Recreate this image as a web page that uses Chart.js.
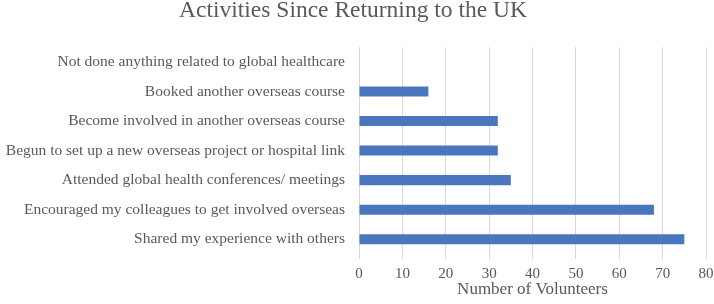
<!DOCTYPE html>
<html>
<head>
<meta charset="utf-8">
<script src="https://cdn.jsdelivr.net/npm/chart.js@4/dist/chart.umd.min.js"></script>
<style>
  html, body { margin: 0; padding: 0; background: #ffffff; }
  #wrap { width: 714px; height: 304px; }
</style>
</head>
<body>
<div id="wrap"><canvas id="c" width="714" height="304"></canvas></div>
<script>
const categories = [
  "Not done anything related to global healthcare",
  "Booked another overseas course",
  "Become involved in another overseas course",
  "Begun to set up a new overseas project or hospital link",
  "Attended global health conferences/ meetings",
  "Encouraged my colleagues to get involved overseas",
  "Shared my experience with others"
];
const volunteers = [0, 16, 32, 32, 35, 68, 75];
const chartTitle = "Activities Since Returning to the UK";
const xAxisTitle = "Number of Volunteers";

const FONT = "'Liberation Serif', serif";
const TEXT = "#595959";

new Chart(document.getElementById('c'), {
  type: 'bar',
  data: {
    labels: categories,
    datasets: [{
      data: volunteers,
      backgroundColor: '#4a76bd',
      borderWidth: 0,
      barPercentage: 0.34,
      categoryPercentage: 1.0
    }]
  },
  options: {
    indexAxis: 'y',
    responsive: false,
    animation: false,
    devicePixelRatio: 1,
    layout: { padding: { left: 0, right: 8, top: 0, bottom: 0 } },
    plugins: {
      legend: { display: false },
      tooltip: { enabled: false },
      title: {
        display: true,
        text: chartTitle,
        color: TEXT,
        font: { family: FONT, size: 23.5, weight: 'normal' },
        padding: { top: -3, bottom: 22 }
      }
    },
    scales: {
      x: {
        min: 0, max: 80,
        ticks: { stepSize: 10, color: TEXT, font: { family: FONT, size: 15 }, padding: 6, maxRotation: 0 },
        grid: { color: '#d9d9d9', drawTicks: true, tickLength: 5, tickColor: '#d9d9d9' },
        border: { display: false },
        title: { display: true, text: xAxisTitle, color: TEXT, font: { family: FONT, size: 17 }, padding: { top: 0, bottom: 4 } },
        afterFit(scale) { scale.height = 50; scale.paddingRight = 0; scale.paddingLeft = 0; }
      },
      y: {
        ticks: { color: TEXT, font: { family: FONT, size: 15.5 }, padding: 6 },
        grid: { display: false },
        border: { display: false },
        afterFit(scale) { scale.width = 359; }
      }
    }
  }
});
</script>
</body>
</html>
